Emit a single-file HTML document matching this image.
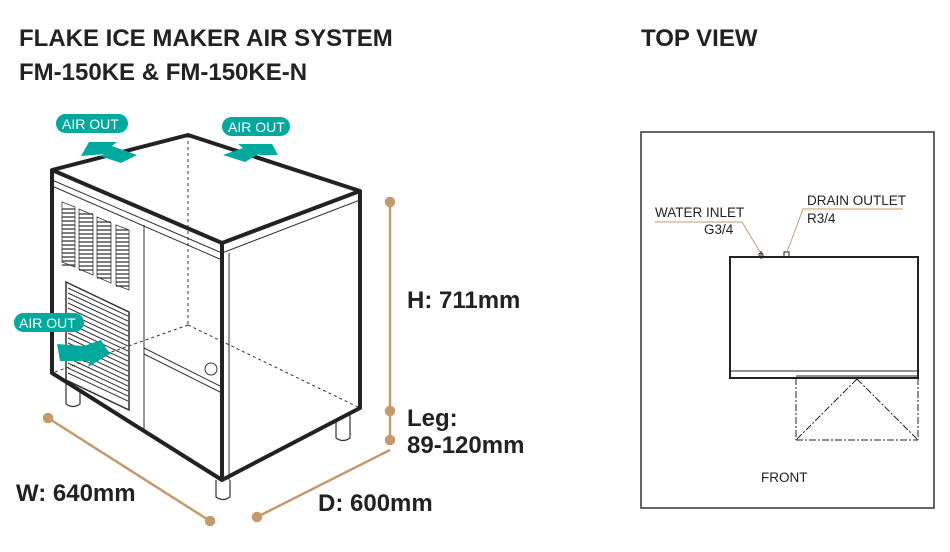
<!DOCTYPE html>
<html><head><meta charset="utf-8"><style>
body{margin:0;background:#fff;width:950px;height:552px;overflow:hidden}
svg{display:block}
text{font-family:"Liberation Sans",Arial,sans-serif}
</style></head><body>
<svg width="950" height="552" viewBox="0 0 950 552">
<g fill="#222" font-weight="bold" font-size="24">
<text x="19" y="46">FLAKE ICE MAKER AIR SYSTEM</text>
<text x="19" y="80">FM-150KE &amp; FM-150KE-N</text>
<text x="641" y="46">TOP VIEW</text>
<text x="407" y="308">H: 711mm</text>
<text x="407" y="426">Leg:</text>
<text x="407" y="453">89-120mm</text>
<text x="16" y="501">W: 640mm</text>
<text x="318" y="511">D: 600mm</text>
</g>
<!-- dimension lines -->
<g stroke="#c49a6c" stroke-width="2.5" fill="#c49a6c">
<line x1="390" y1="202" x2="390" y2="440"/>
<line x1="390" y1="450" x2="257" y2="517"/>
<line x1="48" y1="418" x2="210" y2="521"/>
<circle cx="390" cy="202" r="4"/><circle cx="390" cy="411" r="4"/><circle cx="390" cy="440" r="4"/>
<circle cx="257" cy="517" r="4"/><circle cx="48" cy="418" r="4"/><circle cx="210" cy="521" r="4"/>
</g>
<!-- legs -->
<g stroke="#333" stroke-width="1.2" fill="#fff">
<path d="M66 373 V404 Q73 409 80 404 V378"/>
<path d="M336 415 V438 Q343 443 350 438 V410"/>
<path d="M216 480 V497 Q223 502 230 497 V480"/>
</g>
<!-- machine -->
<g fill="none" stroke="#333" stroke-width="1">
<polygon points="52,170 188,135 360,191 222,243 222,480 52,373" fill="#fff" stroke="none"/>
<polygon points="222,243 360,191 360,408 222,480" fill="#fff" stroke="none"/>
<line x1="52" y1="180" x2="222" y2="253"/>
<line x1="52" y1="186" x2="222" y2="260"/>
<line x1="222" y1="253" x2="360" y2="200"/>
<line x1="229" y1="253" x2="229" y2="480"/>
<line x1="144" y1="225" x2="144" y2="432"/>
<line x1="144" y1="348" x2="222" y2="387"/>
<line x1="144" y1="354" x2="222" y2="393"/>
<circle cx="211" cy="369" r="6"/>
<g stroke-dasharray="3,3">
<line x1="188" y1="135" x2="188" y2="325"/>
<line x1="188" y1="325" x2="52" y2="373"/>
<line x1="188" y1="325" x2="360" y2="408"/>
</g>
<g stroke-width="0.8">
<path d="M62 202 l13 5 v60 l-13 -5 z M79 209 l14 6 v60 l-14 -6 z M97 217 l14 6 v60 l-14 -6 z M116 225 l13 5 v60 l-13 -5 z"/>
<path d="M62 206h13M62 210h13M62 214h13M62 218h13M62 222h13M62 226h13M62 230h13M62 234h13M62 238h13M62 242h13M62 246h13M62 250h13M62 254h13M62 258h13M62 262h13" stroke-width="1.3" transform="translate(0,3)"/>
<path d="M79 214h14M79 218h14M79 222h14M79 226h14M79 230h14M79 234h14M79 238h14M79 242h14M79 246h14M79 250h14M79 254h14M79 258h14M79 262h14M79 266h14M79 270h14" stroke-width="1.3"/>
<path d="M97 222h14M97 226h14M97 230h14M97 234h14M97 238h14M97 242h14M97 246h14M97 250h14M97 254h14M97 258h14M97 262h14M97 266h14M97 270h14M97 274h14M97 278h14" stroke-width="1.3"/>
<path d="M116 230h13M116 234h13M116 238h13M116 242h13M116 246h13M116 250h13M116 254h13M116 258h13M116 262h13M116 266h13M116 270h13M116 274h13M116 278h13M116 282h13M116 286h13" stroke-width="1.3"/>
</g>
<polygon points="66,282 129,312 129,410 66,380" stroke-width="1.5"/>
<path d="M68 288 l60 28 M68 293 l60 28 M68 298 l60 28 M68 303 l60 28 M68 308 l60 28 M68 313 l60 28 M68 318 l60 28 M68 323 l60 28 M68 328 l60 28 M68 333 l60 28 M68 338 l60 28 M68 343 l60 28 M68 348 l60 28 M68 353 l60 28 M68 358 l60 28 M68 363 l60 28 M68 368 l60 28 M68 373 l60 28"/>
</g>
<g fill="none" stroke="#222" stroke-width="4" stroke-linejoin="round">
<polygon points="52,170 188,135 360,191 360,408 222,480 52,373"/>
<polyline points="52,170 222,243 360,191"/>
<line x1="222" y1="243" x2="222" y2="480"/>
</g>
<!-- air out -->
<g fill="#00a99d">
<rect x="56" y="114" width="72" height="19" rx="9.5"/>
<rect x="222" y="117" width="68" height="19" rx="9.5"/>
<rect x="14" y="313" width="70" height="19" rx="9.5"/>
<polygon points="81,156 89,142 117,142 112,146 137,155 121,163 100,156 105,154"/>
<polygon points="223,155 243,148 238,144 272,144 278,155 258,155 262,152 245,162"/>
<polygon points="57,344 84,346 101,340 110,354 88,367 90,361 60,361"/>
</g>
<g fill="#fff" font-size="14">
<text x="62" y="129">AIR OUT</text>
<text x="228" y="132">AIR OUT</text>
<text x="19" y="328">AIR OUT</text>
</g>
<!-- top view -->
<rect x="641" y="132" width="293" height="376" fill="none" stroke="#333" stroke-width="1.5"/>
<g fill="none" stroke="#222">
<rect x="730" y="257" width="188" height="121" stroke-width="2"/>
<line x1="730" y1="371" x2="918" y2="371" stroke-width="1"/>
<line x1="796" y1="376" x2="918" y2="376" stroke-width="1"/>
<g stroke-width="1" stroke-dasharray="7,2,2,2">
<line x1="796" y1="378" x2="796" y2="440"/>
<line x1="918" y1="378" x2="918" y2="440"/>
<line x1="796" y1="440" x2="918" y2="440"/>
<line x1="857" y1="379" x2="797" y2="439"/>
<line x1="857" y1="379" x2="917" y2="439"/>
</g>
<rect x="784" y="252" width="5" height="5" stroke-width="1"/>
<line x1="761" y1="251" x2="761" y2="259" stroke-width="1"/>
<circle cx="761" cy="255" r="2" stroke-width="1"/>
</g>
<g stroke="#c49a6c" stroke-width="1" fill="none">
<polyline points="655,222 742,222 760,252"/>
<polyline points="903,209 803,209 787,252"/>
</g>
<g fill="#222" font-size="13.5">
<text x="655" y="217">WATER INLET</text>
<text x="704" y="234">G3/4</text>
<text x="807" y="205">DRAIN OUTLET</text>
<text x="807" y="223">R3/4</text>
<text x="761" y="482">FRONT</text>
</g>
</svg>
</body></html>
